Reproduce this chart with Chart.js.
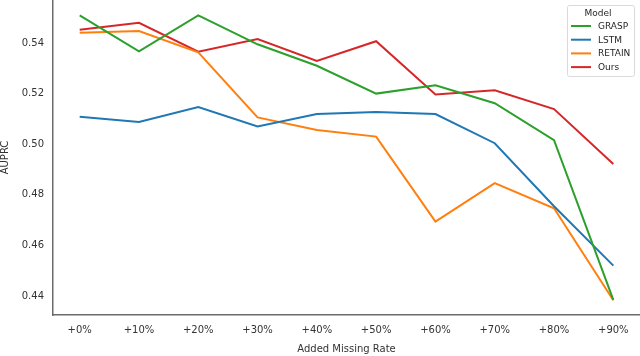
<!DOCTYPE html>
<html>
<head>
<meta charset="utf-8">
<script src="https://cdn.jsdelivr.net/npm/chart.js@4.4.1/dist/chart.umd.min.js"></script>
<style>
html,body{margin:0;padding:0;background:#fff;}
#wrap{width:640px;height:356px;}
</style>
</head>
<body>
<div id="wrap"><canvas id="c" width="640" height="356"></canvas></div>
<script>
const categories = ["+0%","+10%","+20%","+30%","+40%","+50%","+60%","+70%","+80%","+90%"];
const graspValues  = [0.5509,0.5367,0.5509,0.5395,0.5310,0.5200,0.5233,0.5162,0.5016,0.4385];
const lstmValues   = [0.5109,0.5088,0.5147,0.5070,0.5119,0.5127,0.5119,0.5004,0.4755,0.4520];
const retainValues = [0.5441,0.5447,0.5363,0.5106,0.5056,0.5030,0.4694,0.4846,0.4747,0.4383];
const oursValues   = [0.5452,0.5480,0.5366,0.5416,0.5329,0.5407,0.5197,0.5213,0.5139,0.4922];
const yTicks = [0.44,0.46,0.48,0.50,0.52,0.54];
const seriesNames = ["GRASP","LSTM","RETAIN","Ours"];
const seriesColors = ["#2ca02c","#1f77b4","#ff7f0e","#d62728"];
const legendTitle = "Model";

const FONT = "'DejaVu Sans', sans-serif";
const allValues = [graspValues, lstmValues, retainValues, oursValues];

const datasets = allValues.map((vals, k) => ({
  label: seriesNames[k],
  data: vals.map((v, i) => ({x: i, y: v})),
  borderColor: seriesColors[k],
  backgroundColor: seriesColors[k],
  borderWidth: 2,
  pointRadius: 0,
  tension: 0,
  fill: false
}));

const legendPlugin = {
  id: 'mplLegend',
  afterDraw(chart) {
    const ctx = chart.ctx;
    const x0 = 567, y0 = 5, w = 67, h = 71;
    ctx.save();
    ctx.fillStyle = 'rgba(255,255,255,0.8)';
    ctx.strokeStyle = '#d9d9d9';
    ctx.lineWidth = 1;
    ctx.beginPath();
    if (ctx.roundRect) ctx.roundRect(x0 + 0.5, y0 + 0.5, w, h, 2); else ctx.rect(x0 + 0.5, y0 + 0.5, w, h);
    ctx.fill();
    ctx.stroke();
    ctx.font = "9px " + FONT;
    ctx.fillStyle = '#262626';
    ctx.textBaseline = 'middle';
    ctx.textAlign = 'center';
    ctx.fillText(legendTitle, 598, 14);
    ctx.textAlign = 'left';
    chart.data.datasets.forEach((ds, i) => {
      const y = 26 + i * 13.7;
      ctx.strokeStyle = ds.borderColor;
      ctx.lineWidth = 2;
      ctx.beginPath();
      ctx.moveTo(571, y);
      ctx.lineTo(591, y);
      ctx.stroke();
      ctx.fillStyle = '#262626';
      ctx.fillText(ds.label, 598, y + 0.5);
    });
    ctx.restore();
  }
};

new Chart(document.getElementById('c'), {
  type: 'line',
  data: { datasets },
  options: {
    responsive: false,
    animation: false,
    layout: { padding: 0 },
    plugins: { legend: { display: false }, tooltip: { enabled: false } },
    scales: {
      x: {
        type: 'linear',
        min: -0.45,
        max: categories.length - 1 + 0.45,
        afterBuildTicks: (s) => { s.ticks = categories.map((c, i) => ({value: i})); },
        afterFit: (s) => { s.height = 41; s.paddingLeft = 0; s.paddingRight = 0; },
        grid: { display: false, drawTicks: false, tickLength: 0 },
        border: { display: true, color: '#6b6b6b', width: 1.5 },
        ticks: {
          autoSkip: false,
          maxRotation: 0,
          padding: 9,
          color: '#333333',
          font: { family: FONT, size: 10 },
          callback: (v) => categories[v]
        },
        title: {
          display: true,
          text: 'Added Missing Rate',
          color: '#333333',
          font: { family: FONT, size: 10, lineHeight: 1.0 },
          padding: { top: 0, bottom: 2 }
        }
      },
      y: {
        type: 'linear',
        min: 0.4325,
        max: 0.557,
        afterBuildTicks: (s) => { s.ticks = yTicks.map(v => ({value: v})); },
        afterFit: (s) => { s.width = 53; s.paddingTop = 0; s.paddingBottom = 0; },
        grid: { display: false, drawTicks: false, tickLength: 0 },
        border: { display: true, color: '#6b6b6b', width: 1.5 },
        ticks: {
          padding: 9,
          color: '#333333',
          font: { family: FONT, size: 10 },
          callback: (v) => v.toFixed(2)
        },
        title: {
          display: true,
          text: 'AUPRC',
          color: '#333333',
          font: { family: FONT, size: 10, lineHeight: 1.0 },
          padding: { top: 0, bottom: 0 }
        }
      }
    }
  },
  plugins: [legendPlugin]
});
</script>
</body>
</html>
